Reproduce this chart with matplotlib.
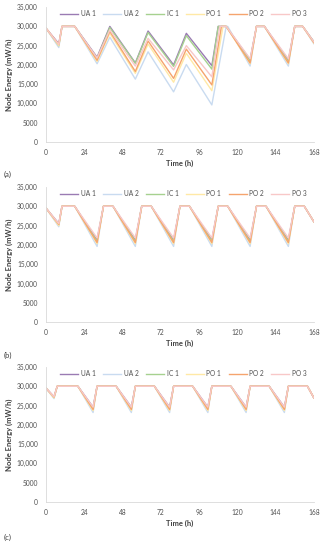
import matplotlib.pyplot as plt

plt.rcParams['font.family'] = ['Lato', 'DejaVu Sans']

names = ['UA 1', 'UA 2', 'IC 1', 'PO 1', 'PO 2', 'PO 3']
colors = ['#9a7bb3', '#c9dbf0', '#a6d18f', '#ffe9a6', '#f5a46e', '#f8c8c8']

# panel (a): hour breakpoints and node energy (mW/h) per series
a_t = {
    'UA 1': [0, 8, 10, 18, 32, 40, 56, 64, 80, 88, 104, 108, 113, 128, 132, 137, 152, 156, 161, 168],
    'UA 2': [0, 8, 10, 18, 32, 40, 56, 64, 80, 88, 104, 113, 114, 128, 132, 137, 152, 156, 161, 168],
    'IC 1': [0, 8, 10, 18, 32, 40, 56, 64, 80, 88, 104, 108, 113, 128, 132, 137, 152, 156, 161, 168],
    'PO 1': [0, 8, 10, 18, 32, 40, 56, 64, 80, 88, 104, 111, 113, 128, 132, 137, 152, 156, 161, 168],
    'PO 2': [0, 8, 10, 18, 32, 40, 56, 64, 80, 88, 104, 110, 113, 128, 132, 137, 152, 156, 161, 168],
    'PO 3': [0, 8, 10, 18, 32, 40, 56, 64, 80, 88, 104, 109, 113, 128, 132, 137, 152, 156, 161, 168],
}
a_v = {
    'UA 1': [29500, 25500, 30000, 30000, 22000, 30000, 20500, 28800, 20000, 28200, 19800, 30000, 30000, 21300, 30000, 30000, 21200, 30000, 30000, 26000],
    'UA 2': [29500, 24500, 30000, 30000, 20300, 27200, 16300, 23400, 13000, 20100, 9600, 30000, 30000, 19700, 30000, 30000, 19700, 30000, 30000, 25500],
    'IC 1': [29500, 25000, 30000, 30000, 21700, 29700, 20400, 28400, 19600, 27600, 18900, 30000, 30000, 21000, 30000, 30000, 20900, 30000, 30000, 26000],
    'PO 1': [29500, 25000, 30000, 30000, 20900, 28200, 17800, 25400, 15500, 23000, 13300, 30000, 30000, 20300, 30000, 30000, 20300, 30000, 30000, 25700],
    'PO 2': [29500, 25300, 30000, 30000, 21200, 28700, 18300, 26200, 16500, 24100, 14800, 30000, 30000, 20500, 30000, 30000, 20500, 30000, 30000, 25800],
    'PO 3': [29500, 25300, 30000, 30000, 21800, 29100, 19700, 26900, 18700, 25000, 16900, 30000, 30000, 21600, 30000, 30000, 21600, 30000, 30000, 26000],
}

# panel (b)
b_t = [0, 8, 10, 18, 32, 36, 42, 56, 60, 66, 80, 84, 90, 104, 108, 114, 128, 132, 138, 152, 156, 162, 168]
b_min = {'UA 1': 21200, 'UA 2': 19600, 'IC 1': 21000, 'PO 1': 20300, 'PO 2': 20600, 'PO 3': 21800}
b_dip = {'UA 1': 25500, 'UA 2': 24700, 'IC 1': 25200, 'PO 1': 25000, 'PO 2': 25300, 'PO 3': 25500}

# panel (c)
c_t = [0, 5, 7, 20, 29.5, 32, 44, 53.5, 56, 68, 77.5, 80, 92, 101.5, 104, 116, 125.5, 128, 140, 149.5, 152, 164, 168]
c_min = {'UA 1': 24600, 'UA 2': 23200, 'IC 1': 24200, 'PO 1': 23700, 'PO 2': 24000, 'PO 3': 24600}
c_dip = {'UA 1': 27300, 'UA 2': 26800, 'IC 1': 27100, 'PO 1': 27000, 'PO 2': 27200, 'PO 3': 27300}


def cycle_values(start, dip, low, end, n_days):
    vals = [start, dip, 30000, 30000]
    for i in range(n_days):
        vals += [low, 30000, 30000]
    vals.append(end)
    return vals


b_v = {n: cycle_values(29500, b_dip[n], b_min[n], 26000, 6) for n in names}
c_v = {n: cycle_values(29500, c_dip[n], c_min[n], 27000, 6) for n in names}

yticks = [0, 5000, 10000, 15000, 20000, 25000, 30000, 35000]
ylabels = ['0', '5000', '10,000', '15,000', '20,000', '25,000', '30,000', '35,000']
xticks = [0, 24, 48, 72, 96, 120, 144, 168]

fig = plt.figure(figsize=(3.29, 5.5), dpi=100)
boxes = [(0.140, 0.742, 0.814, 0.245), (0.140, 0.4145, 0.814, 0.2455), (0.140, 0.0873, 0.814, 0.2454)]
panels = [
    (a_t, a_v, '(a)', 0.678),
    ({n: b_t for n in names}, b_v, '(b)', 0.350),
    ({n: c_t for n in names}, c_v, '(c)', 0.018),
]

for box, (tt, vv, tag, ty) in zip(boxes, panels):
    ax = fig.add_axes(box)
    for n, c in zip(names, colors):
        ax.plot(tt[n], vv[n], color=c, lw=1.0, label=n)
    ax.set_xlim(0, 168)
    ax.set_ylim(0, 35000)
    ax.set_xticks(xticks)
    ax.set_yticks(yticks)
    ax.set_yticklabels(ylabels)
    ax.tick_params(length=0, labelsize=4.8, colors='#505050')
    ax.tick_params(axis='y', pad=6)
    ax.tick_params(axis='x', pad=5)
    for s in ['top', 'right']:
        ax.spines[s].set_visible(False)
    for s in ['left', 'bottom']:
        ax.spines[s].set_color('#d9d9d9')
        ax.spines[s].set_linewidth(0.6)
    ax.set_xlabel('Time (h)', fontsize=5.5, fontweight='bold', color='#404040', labelpad=3)
    ax.set_ylabel('Node Energy (mW/h)', fontsize=5.5, fontweight='bold', color='#404040', labelpad=3)
    ax.legend(loc='center', bbox_to_anchor=(0.513, 0.953), ncol=6, frameon=False,
              fontsize=4.8, handlelength=2.7, columnspacing=1.1, handletextpad=0.4,
              labelcolor='#505050')
    fig.text(0.01, ty, tag, fontsize=5.5, color='#404040')

fig.savefig('out.png', dpi=100)
